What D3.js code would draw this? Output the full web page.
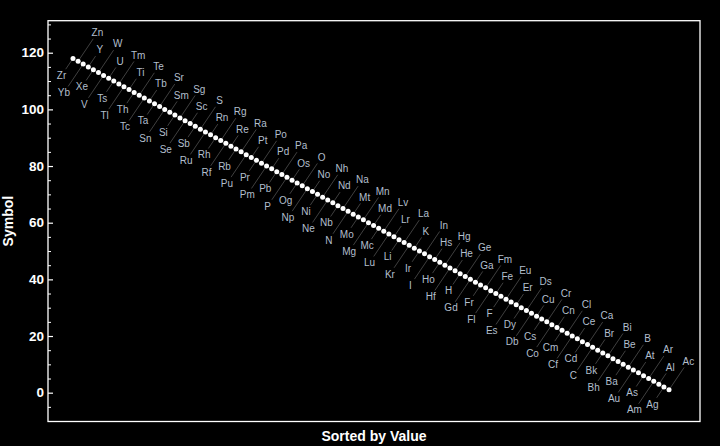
<!DOCTYPE html>
<html>
<head>
<meta charset="utf-8">
<script src="https://cdn.jsdelivr.net/npm/d3@7"></script>
<style>
  html, body { margin: 0; padding: 0; background: #000; }
  svg { display: block; }
</style>
</head>
<body>
<svg id="chart" width="720" height="446"></svg>
<script>
// Element symbols in the order plotted (reverse alphabetical)
const symbols = ["Zr","Zn","Yb","Y","Xe","W","V","U","Ts","Tm","Tl","Ti","Th","Te","Tc","Tb","Ta",
  "Sr","Sn","Sm","Si","Sg","Se","Sc","Sb","S","Ru","Rn","Rh","Rg","Rf","Re","Rb","Ra",
  "Pu","Pt","Pr","Po","Pm","Pd","Pb","Pa","P","Os","Og","O","Np","No","Ni","Nh","Ne","Nd","Nb","Na","N",
  "Mt","Mo","Mn","Mg","Md","Mc","Lv","Lu","Lr","Li","La","Kr","K","Ir","In","I",
  "Hs","Ho","Hg","Hf","He","H","Ge","Gd","Ga","Fr","Fm","Fl","Fe","F","Eu","Es","Er",
  "Dy","Ds","Db","Cu","Cs","Cr","Co","Cn","Cm","Cl","Cf","Ce","Cd","Ca","C",
  "Br","Bk","Bi","Bh","Be","Ba","B","Au","At","As","Ar","Am","Al","Ag","Ac"];

// Values (sorted, descending)
const values = [118,117,116,115,114,113,112,111,110,109,108,107,106,105,104,103,102,101,100,
  99,98,97,96,95,94,93,92,91,90,89,88,87,86,85,84,83,82,81,80,79,78,77,76,75,74,73,72,71,70,
  69,68,67,66,65,64,63,62,61,60,59,58,57,56,55,54,53,52,51,50,49,48,47,46,45,44,43,42,41,40,
  39,38,37,36,35,34,33,32,31,30,29,28,27,26,25,24,23,22,21,20,19,18,17,16,15,14,13,12,11,10,
  9,8,7,6,5,4,3,2,1];

const yTicks = [0, 20, 40, 60, 80, 100, 120];
const yMinorTicks = [-10, -5, 5, 10, 15, 25, 30, 35, 45, 50, 55, 65, 70, 75, 85, 90, 95, 105, 110, 115, 125, 130];
const xTitle = "Sorted by Value";
const yTitle = "Symbol";

const svg = d3.select("#chart");
const L = 48, R = 700, T = 20.7, B = 421.5;
const font = "'Liberation Sans', Arial, Helvetica, sans-serif";

svg.append("rect").attr("width", 720).attr("height", 446).attr("fill", "#000");

const x = d3.scaleLinear().domain([-3.91, 124.08]).range([L, R]);
const y = d3.scaleLinear().domain([-10.17, 131.3]).range([B, T]);

const data = values.map((v, i) => ({ pos: i + 1, v, sym: symbols[i], i }));

// label offsets: odd indices above-right, even below-left; alternating near/far
const ux = 0.56, uy = -0.83;
data.forEach(d => {
  const above = d.i % 2 === 1;
  const far = (d.i % 4 === 1) || (d.i % 4 === 2);
  const dist = far ? 34.5 : 20.5;
  const s = above ? 1 : -1;
  d.px = x(d.pos); d.py = y(d.v);
  d.lx = d.px + s * ux * dist;
  d.ly = d.py + s * uy * dist;
  d.ex = d.px + s * ux * (dist - 7.5);
  d.ey = d.py + s * uy * (dist - 7.5);
});

// leader lines
svg.append("g").selectAll("line").data(data).join("line")
  .attr("x1", d => d.px).attr("y1", d => d.py)
  .attr("x2", d => d.ex).attr("y2", d => d.ey)
  .attr("stroke", "#5a5a5a").attr("stroke-width", 0.7);

// points
svg.append("g").selectAll("circle").data(data).join("circle")
  .attr("cx", d => d.px).attr("cy", d => d.py).attr("r", 2.5)
  .attr("fill", "#fff");

// labels
svg.append("g").selectAll("text").data(data).join("text")
  .attr("x", d => d.lx).attr("y", d => d.ly)
  .attr("text-anchor", "middle").attr("dominant-baseline", "central")
  .attr("font-family", font).attr("font-size", 10)
  .attr("fill", "#b2bfcd")
  .text(d => d.sym);

// frame
svg.append("rect").attr("x", L).attr("y", T).attr("width", R - L).attr("height", B - T)
  .attr("fill", "none").attr("stroke", "#fff").attr("stroke-width", 1.3);

// y axis ticks (inside) and labels
const yAxis = d3.axisRight(y).tickValues(yTicks).tickSize(5).tickFormat("");
const gY = svg.append("g").attr("transform", `translate(${L},0)`).call(yAxis);
gY.select(".domain").remove();
gY.selectAll("line").attr("stroke", "#fff").attr("stroke-width", 1.2);
const yAxisMinor = d3.axisRight(y).tickValues(yMinorTicks).tickSize(3).tickFormat("");
const gYm = svg.append("g").attr("transform", `translate(${L},0)`).call(yAxisMinor);
gYm.select(".domain").remove();
gYm.selectAll("line").attr("stroke", "#fff").attr("stroke-width", 1);

svg.append("g").selectAll("text").data(yTicks).join("text")
  .attr("x", L - 4).attr("y", d => y(d))
  .attr("text-anchor", "end").attr("dominant-baseline", "central")
  .attr("font-family", font).attr("font-size", 13.5).attr("font-weight", "bold")
  .attr("fill", "#fff").text(d => d);

// titles
svg.append("text").attr("x", (L + R) / 2).attr("y", 441)
  .attr("text-anchor", "middle").attr("font-family", font).attr("font-size", 14)
  .attr("font-weight", "bold").attr("fill", "#fff").text(xTitle);
svg.append("text").attr("transform", `translate(13,${(T + B) / 2}) rotate(-90)`)
  .attr("text-anchor", "middle").attr("font-family", font).attr("font-size", 14)
  .attr("font-weight", "bold").attr("fill", "#fff").text(yTitle);
</script>
</body>
</html>
